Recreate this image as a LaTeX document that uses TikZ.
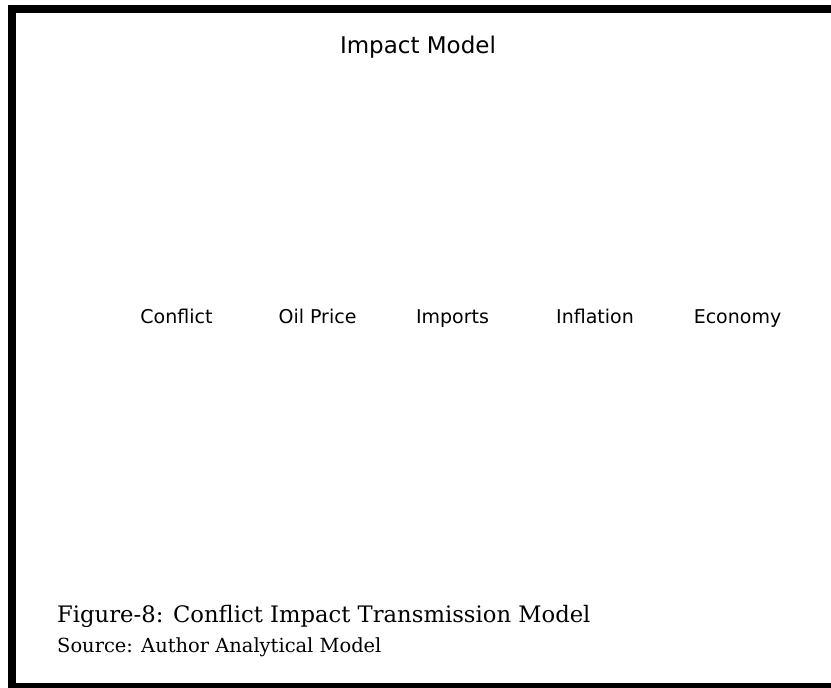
\documentclass[tikz,border=0pt]{standalone}
\usepackage{fontspec}
\setmainfont{DejaVu Serif}
\newfontfamily\djsans{DejaVu Sans}
\begin{document}
\begin{tikzpicture}[x=1pt,y=-1pt,
  frame/.style={fill=black,draw=none},
  lbl/.style={font=\djsans\fontsize{19}{22}\selectfont,anchor=base,inner sep=0pt},
  ttl/.style={font=\djsans\fontsize{23}{27}\selectfont,anchor=base,inner sep=0pt},
  figcap/.style={font=\fontsize{22.7}{26}\selectfont,anchor=base west,inner sep=0pt},
  srcline/.style={font=\fontsize{19.45}{23}\selectfont,anchor=base west,inner sep=0pt}]
\useasboundingbox[fill=white] (0,0) rectangle (831,688);
\fill[frame] (8,5) rectangle (831,13);
\fill[frame] (8,5) rectangle (16,688);
\fill[frame] (8,683) rectangle (831,688);
\node[ttl] (title) at (418,53) {Impact Model};
\node[lbl] (conflict) at (176.5,323) {Conflict};
\node[lbl] (oil) at (317.5,323) {Oil Price};
\node[lbl] (imports) at (452.5,323) {Imports};
\node[lbl] (inflation) at (595,323) {Inflation};
\node[lbl] (economy) at (737.5,323) {Economy};
\node[figcap] (caption) at (57,622.5) {Figure-8: Conflict Impact Transmission Model};
\node[srcline] (source) at (57,652) {Source: Author Analytical Model};
\end{tikzpicture}
\end{document}
